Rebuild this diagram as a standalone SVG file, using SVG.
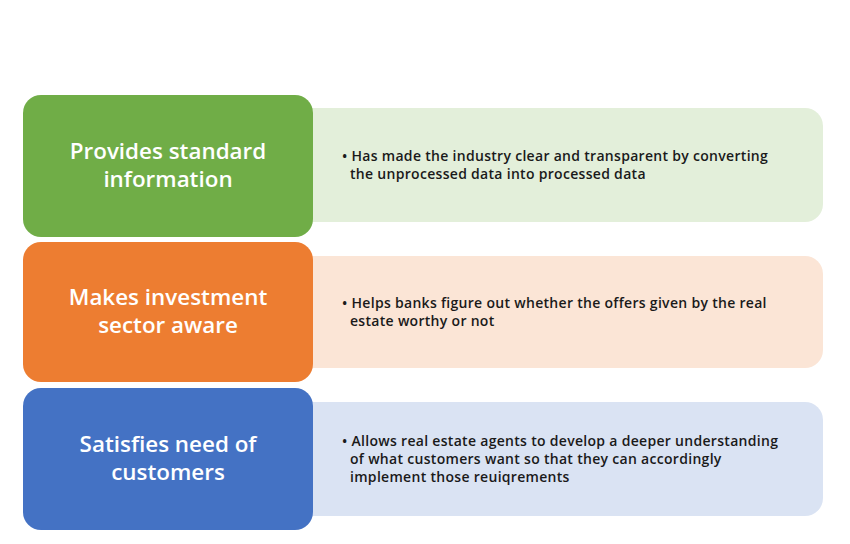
<svg xmlns="http://www.w3.org/2000/svg" width="850" height="544" viewBox="0 0 850 544">
<style>
.t{font-family:"Open Sans","Noto Sans",sans-serif;font-weight:600;font-size:22.4px;fill:#fff;text-anchor:middle}
.b{font-family:"Open Sans","Noto Sans",sans-serif;font-weight:600;font-size:14px;letter-spacing:0.3px;fill:#1a1a1a}
</style>
<rect width="850" height="544" fill="#fff"/>
<g id="row1">
<rect x="290" y="108" width="533" height="114" rx="18" fill="#E3EFDA"/>
<rect x="23" y="95" width="290" height="142" rx="18" fill="#70AD47"/>
<text class="t" x="168" y="159">Provides standard</text>
<text class="t" x="168" y="187">information</text>
<text class="b" x="342" y="161">• Has made the industry clear and transparent by converting</text>
<text class="b" x="350" y="179">the unprocessed data into processed data</text>
</g>
<g id="row2">
<rect x="290" y="256" width="533" height="112" rx="18" fill="#FBE5D6"/>
<rect x="23" y="242" width="290" height="140" rx="18" fill="#ED7D31"/>
<text class="t" x="168" y="305">Makes investment</text>
<text class="t" x="168" y="333">sector aware</text>
<text class="b" x="342" y="308">• Helps banks figure out whether the offers given by the real</text>
<text class="b" x="350" y="326">estate worthy or not</text>
</g>
<g id="row3">
<rect x="290" y="402" width="533" height="114" rx="18" fill="#DAE3F3"/>
<rect x="23" y="388" width="290" height="142" rx="18" fill="#4472C4"/>
<text class="t" x="168" y="452">Satisfies need of</text>
<text class="t" x="168" y="480">customers</text>
<text class="b" x="342" y="446">• Allows real estate agents to develop a deeper understanding</text>
<text class="b" x="350" y="464">of what customers want so that they can accordingly</text>
<text class="b" x="350" y="482">implement those reuiqrements</text>
</g>
<g id="connectors"/>
</svg>
